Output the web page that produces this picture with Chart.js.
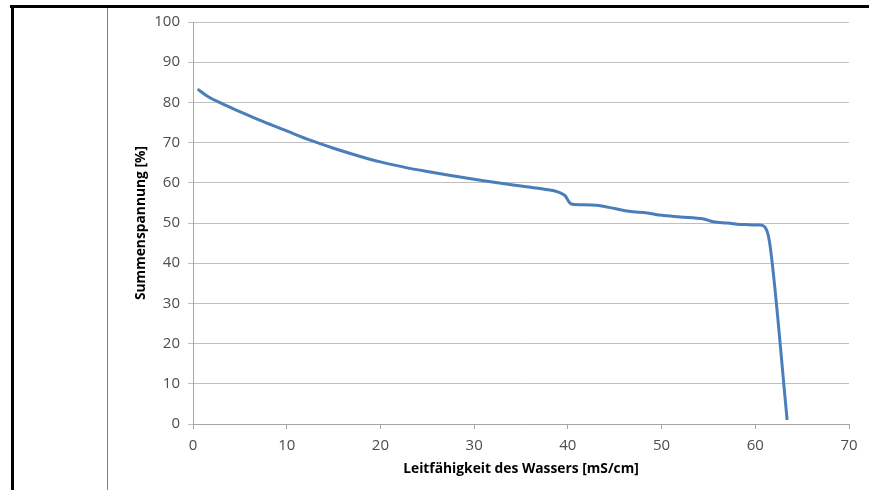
<!DOCTYPE html>
<html>
<head>
<meta charset="utf-8">
<script src="https://cdn.jsdelivr.net/npm/chart.js@4/dist/chart.umd.min.js"></script>
<style>
    html, body { margin: 0; padding: 0; background: #fff; }
    #wrap { position: relative; width: 869px; height: 490px; overflow: hidden; }
    #chart { position: absolute; left: 0; top: 0; }
    .frame { position: absolute; }
    #frameTop { left: 10px; top: 5px; width: 859px; height: 3px; background: #000; }
    #frameLeft { left: 11px; top: 5px; width: 3px; height: 485px; background: #000; }
    #divider { left: 107px; top: 8px; width: 1px; height: 482px; background: #7f7f7f; }
</style>
</head>
<body>
<div id="wrap">
    <canvas id="chart" width="869" height="490"></canvas>
    <div class="frame" id="frameTop"></div>
    <div class="frame" id="frameLeft"></div>
    <div class="frame" id="divider"></div>
</div>
<script>
// Leitfähigkeit [mS/cm] and Summenspannung [%]
const conductivity = [0.5, 1.5, 3, 5, 7.5, 10, 12.5, 15, 17.5, 20, 22.5, 25, 27.5, 30,
    32.5, 35, 37.5, 39, 39.7, 40.3, 40.8, 43, 45, 46.5, 48.5, 50, 52, 54.5, 55.5, 57,
    59, 60.5, 61.2, 61.6, 63.4];
const voltage = [83.3, 81.6, 79.8, 77.7, 75.2, 72.9, 70.6, 68.6, 66.8, 65.2, 63.9, 62.8,
    61.8, 60.9, 60.0, 59.2, 58.4, 57.7, 56.8, 54.8, 54.6, 54.4, 53.6, 52.9, 52.5, 51.9,
    51.5, 51.0, 50.3, 50.0, 49.6, 49.5, 48.3, 44.0, 1.0];

const xTitle = 'Leitfähigkeit des Wassers [mS/cm]';
const yTitle = 'Summenspannung [%]';

const tickFont = { family: "'Open Sans', sans-serif", size: 15 };
const titleFont = { family: "'Open Sans', sans-serif", size: 13.8, weight: 'bold' };

const points = conductivity.map((x, i) => ({ x: x, y: voltage[i] }));

new Chart(document.getElementById('chart'), {
    type: 'line',
    data: {
        datasets: [{
            data: points,
            borderColor: '#4a7ebb',
            borderWidth: 3,
            pointRadius: 0,
            cubicInterpolationMode: 'monotone',
            fill: false
        }]
    },
    options: {
        responsive: false,
        animation: false,
        layout: { padding: { left: 124, top: 22, right: 20, bottom: 0 } },
        plugins: {
            legend: { display: false },
            tooltip: { enabled: false }
        },
        scales: {
            x: {
                type: 'linear',
                min: 0,
                max: 70,
                afterFit: (scale) => { scale.height = 66; },
                ticks: { stepSize: 10, color: '#4d4d4d', font: tickFont, padding: 8, maxRotation: 0 },
                grid: { drawOnChartArea: false, drawTicks: true, tickLength: 5, color: '#a6a6a6' },
                border: { color: '#a6a6a6', width: 1 },
                title: { display: true, text: xTitle, color: '#000', font: titleFont, padding: { top: 0, bottom: 13 } }
            },
            y: {
                min: 0,
                max: 100,
                afterFit: (scale) => { scale.width = 193 - 124; },
                ticks: { stepSize: 10, color: '#4d4d4d', font: tickFont, padding: 8 },
                grid: { color: '#bfbfbf', lineWidth: 1, tickLength: 5 },
                border: { color: '#a6a6a6', width: 1 },
                title: { display: true, text: yTitle, color: '#000', font: titleFont, padding: { top: 9, bottom: 0 } }
            }
        }
    }
});
</script>
</body>
</html>
